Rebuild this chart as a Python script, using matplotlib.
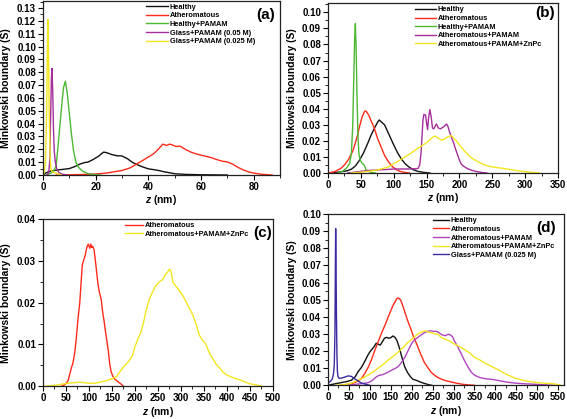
import matplotlib
matplotlib.use('Agg')
import matplotlib.pyplot as plt
from matplotlib.ticker import MultipleLocator, AutoMinorLocator, FormatStrFormatter

plt.rcParams['font.family'] = ['Liberation Sans', 'DejaVu Sans']
plt.rcParams['font.weight'] = 'bold'
plt.rcParams['axes.labelweight'] = 'bold'
plt.rcParams['mathtext.fontset'] = 'custom'
plt.rcParams['mathtext.it'] = 'Liberation Sans:italic:bold'
plt.rcParams['mathtext.rm'] = 'Liberation Sans:bold'

BLACK = '#111111'
RED = '#ff2a1a'
GREEN = '#4cb833'
PURPLE = '#a52f9c'
YELLOW = '#f5e51c'
VIOLET = '#b044c0'
INDIGO = '#3a2ba0'

# ---- panel (a)
a_healthy_x = [0, 1, 2, 3, 5, 8, 10, 12, 14, 16, 17, 19, 21, 23, 24, 26, 28, 30, 32, 34, 36, 38, 40, 42, 44, 46, 48, 50, 54, 60, 70]
a_healthy_y = [0, 0.0015, 0.0025, 0.003, 0.0038, 0.0045, 0.005, 0.0065, 0.0085, 0.0098, 0.010, 0.012, 0.0145, 0.0178, 0.0175, 0.016,
               0.015, 0.0148, 0.0128, 0.0098, 0.0078, 0.0062, 0.0048, 0.0042, 0.0035, 0.0025, 0.0018, 0.001, 0.0005, 0.0002, 0]
a_ath_x = [5, 10, 15, 20, 24, 27, 30, 33, 36, 38, 40, 42, 44, 45.5, 47, 48, 49, 50.5, 52, 54, 56, 58, 60, 62, 64, 66, 68, 70, 72,
           74, 76, 78, 80, 83, 87]
a_ath_y = [0, 0.0002, 0.0004, 0.0008, 0.0015, 0.0025, 0.0035, 0.0055, 0.009, 0.0115, 0.014, 0.0165, 0.0205, 0.024, 0.023, 0.024,
           0.0235, 0.0222, 0.0225, 0.020, 0.018, 0.0165, 0.0155, 0.0145, 0.0135, 0.012, 0.0108, 0.0102, 0.0085, 0.006, 0.004, 0.0025,
           0.0015, 0.0006, 0]
a_hp_x = [1, 2, 3, 4, 5, 5.7, 6.5, 7.2, 7.8, 8.5, 9.2, 10, 10.8, 11.6, 12.5, 13.5, 15, 17, 19, 22]
a_hp_y = [0, 0.0005, 0.0015, 0.003, 0.007, 0.022, 0.04, 0.056, 0.068, 0.073, 0.064, 0.048, 0.032, 0.019, 0.010, 0.006, 0.003, 0.0012,
          0.0004, 0]
a_g05_x = [1.5, 2.2, 2.6, 2.9, 3.2, 3.4, 3.7, 4.0, 4.3, 4.7, 5.2, 6, 7, 9]
a_g05_y = [0, 0.002, 0.012, 0.045, 0.075, 0.083, 0.065, 0.035, 0.018, 0.010, 0.005, 0.002, 0.0008, 0]
a_g025_x = [0, 0.5, 1.0, 1.4, 1.7, 1.9, 2.1, 2.4, 2.7, 3.0, 3.5, 4.5, 5.5, 7]
a_g025_y = [0, 0.002, 0.012, 0.05, 0.1, 0.121, 0.095, 0.045, 0.015, 0.005, 0.0025, 0.0018, 0.001, 0]

# ---- panel (b)
b_healthy_x = [0, 10, 20, 30, 36, 42, 48, 54, 60, 66, 72, 76, 78, 82, 86, 90, 95, 100, 106, 112, 118, 124, 130, 137, 145, 155]
b_healthy_y = [0, 0.0002, 0.0008, 0.0015, 0.0025, 0.0045, 0.008, 0.0125, 0.018, 0.024, 0.029, 0.032, 0.033, 0.0315, 0.030, 0.0265,
               0.022, 0.0175, 0.0125, 0.0085, 0.0055, 0.0035, 0.002, 0.001, 0.0004, 0]
b_ath_x = [0, 10, 20, 26, 32, 38, 44, 48, 52, 56, 58, 62, 66, 70, 75, 80, 86, 92, 98, 104, 110, 116, 124]
b_ath_y = [0, 0.0008, 0.003, 0.0055, 0.009, 0.014, 0.022, 0.029, 0.035, 0.0385, 0.0385, 0.036, 0.032, 0.0285, 0.022, 0.017, 0.011,
           0.007, 0.004, 0.002, 0.001, 0.0004, 0]
b_hp_x = [15, 22, 28, 33, 35.5, 37.5, 39, 40.5, 41.6, 42.8, 44, 45.5, 47, 49, 52, 55, 58, 62, 66, 72]
b_hp_y = [0, 0.001, 0.003, 0.006, 0.012, 0.028, 0.055, 0.083, 0.093, 0.078, 0.05, 0.024, 0.012, 0.008, 0.006, 0.005, 0.002, 0.001,
          0.0003, 0]
b_ap_x = [30, 40, 50, 60, 70, 80, 90, 100, 110, 120, 130, 137, 139.5, 141.5, 143, 144.5, 146, 148.5, 150, 151.5, 153, 155, 157, 159,
          161, 163, 165, 168, 171, 175, 178, 180.5, 182.5, 185, 188, 191, 194, 197, 200, 203, 207, 212, 218, 225, 233, 242]
b_ap_y = [0, 0.0005, 0.001, 0.0015, 0.0018, 0.002, 0.0022, 0.0025, 0.0025, 0.0025, 0.0026, 0.0028, 0.005, 0.012, 0.022, 0.033,
          0.0365, 0.036, 0.031, 0.027, 0.034, 0.0395, 0.035, 0.028, 0.0275, 0.029, 0.0305, 0.028, 0.0275, 0.0285, 0.0295, 0.0305,
          0.029, 0.0255, 0.022, 0.019, 0.015, 0.0115, 0.008, 0.0055, 0.004, 0.0028, 0.0018, 0.001, 0.0004, 0]
b_apz_x = [35, 50, 65, 76, 90, 101, 110, 117, 127, 137, 145, 152, 157, 162, 167, 172, 177, 182, 187, 190, 195, 200, 208, 218, 226,
           233, 242, 250, 264, 275, 284, 295, 304, 312, 322]
b_apz_y = [0, 0.0005, 0.0012, 0.002, 0.0035, 0.006, 0.0082, 0.010, 0.0125, 0.0155, 0.0175, 0.0195, 0.0215, 0.023, 0.022, 0.0205,
           0.021, 0.0225, 0.0232, 0.0225, 0.020, 0.0175, 0.0135, 0.0095, 0.0075, 0.006, 0.0045, 0.0038, 0.003, 0.0023, 0.0017,
           0.0011, 0.0006, 0.0003, 0]

# ---- panel (c)
c_ath_x = [40, 46, 51, 55, 58, 62, 65, 69, 72.5, 76, 80, 83, 85.5, 88, 91, 94, 96, 98.6, 100, 102, 104, 106, 108, 111, 114, 116, 119,
           122, 125, 127, 130, 133, 136, 139, 142, 145, 148, 152, 156, 160, 164, 168, 172, 175]
c_ath_y = [0, 0.0003, 0.0008, 0.0015, 0.0028, 0.0045, 0.0055, 0.008, 0.0115, 0.016, 0.020, 0.025, 0.029, 0.030, 0.031, 0.0325, 0.0335,
           0.034, 0.0335, 0.033, 0.034, 0.0332, 0.0335, 0.0327, 0.030, 0.028, 0.025, 0.0228, 0.0215, 0.0205, 0.0175, 0.0155, 0.013,
           0.0108, 0.0085, 0.0055, 0.0035, 0.0024, 0.0017, 0.0014, 0.001, 0.0007, 0.0003, 0]
c_apz_x = [0, 15, 30, 45, 60, 80, 95, 110, 125, 140, 150, 160, 167, 174, 181, 188, 195, 200, 206, 213, 219, 225, 232, 238, 245, 253,
           260, 265, 270, 275, 278, 283, 290, 297, 305, 312, 319, 326, 333, 340, 347, 353, 358, 364, 370, 377, 385, 392, 400, 410,
           420, 430, 440, 450, 460, 470, 476]
c_apz_y = [0, 0.0001, 0.0003, 0.0006, 0.0008, 0.001, 0.0008, 0.0007, 0.001, 0.0014, 0.0018, 0.0023, 0.0035, 0.0045, 0.0053, 0.0062,
           0.0075, 0.0095, 0.0112, 0.013, 0.0155, 0.0185, 0.021, 0.0225, 0.024, 0.025, 0.0255, 0.0265, 0.0272, 0.028, 0.0275, 0.0248,
           0.0238, 0.0228, 0.0215, 0.020, 0.0185, 0.017, 0.0148, 0.0122, 0.011, 0.0103, 0.009, 0.0075, 0.0065, 0.0052, 0.0043,
           0.0033, 0.0027, 0.0022, 0.0018, 0.0015, 0.001, 0.0006, 0.0004, 0.0002, 0]

# ---- panel (d)
d_healthy_x = [0, 15, 30, 45, 56, 65, 72, 80, 88, 95, 100, 105, 110, 115, 120, 125, 130, 135, 140, 145, 150, 155, 160, 165, 171, 177,
               183, 190, 197, 203, 210, 218, 225, 232, 240, 248]
d_healthy_y = [0, 0.0008, 0.0015, 0.0022, 0.003, 0.005, 0.008, 0.0105, 0.014, 0.0175, 0.0195, 0.021, 0.0225, 0.0245, 0.024, 0.0235,
               0.0255, 0.0275, 0.028, 0.0275, 0.0278, 0.0288, 0.028, 0.026, 0.0215, 0.016, 0.011, 0.0075, 0.005, 0.0035, 0.003,
               0.0022, 0.0015, 0.001, 0.0004, 0]
d_ath_x = [30, 45, 60, 72, 80, 88, 96, 104, 112, 120, 128, 136, 144, 150, 156, 161, 165, 169, 173, 178, 184, 190, 197, 205, 213, 221,
           230, 238, 247, 255, 263, 272, 280, 290, 300, 312, 325, 340, 350]
d_ath_y = [0, 0.0005, 0.0013, 0.0025, 0.004, 0.007, 0.0105, 0.015, 0.0205, 0.0255, 0.0305, 0.035, 0.040, 0.0435, 0.047, 0.049,
           0.0508, 0.0508, 0.050, 0.047, 0.0425, 0.038, 0.0335, 0.028, 0.0235, 0.0185, 0.0135, 0.0105, 0.0075, 0.0058, 0.0045,
           0.0035, 0.0028, 0.0022, 0.0016, 0.001, 0.0005, 0.0002, 0]
d_ap_x = [40, 56, 70, 85, 95, 104, 110, 116, 122, 130, 138, 146, 152, 160, 168, 176, 184, 192, 200, 208, 215, 223, 231, 238, 245, 252,
          258, 264, 270, 276, 281, 287, 292, 297, 303, 310, 318, 326, 335, 343, 351, 360, 368, 378, 391, 403, 415, 430, 446, 462,
          478, 495, 510, 525, 540]
d_ap_y = [0, 0.0004, 0.0007, 0.0011, 0.0015, 0.0025, 0.0038, 0.005, 0.0058, 0.0062, 0.007, 0.008, 0.0088, 0.0098, 0.011, 0.0135,
          0.0165, 0.0205, 0.0245, 0.0268, 0.028, 0.0295, 0.0308, 0.0315, 0.0318, 0.0315, 0.0315, 0.031, 0.0298, 0.0292, 0.029,
          0.0298, 0.0295, 0.0285, 0.0255, 0.0225, 0.0185, 0.0145, 0.0105, 0.0075, 0.0058, 0.0048, 0.0042, 0.0038, 0.0035, 0.003,
          0.0024, 0.0018, 0.0013, 0.001, 0.0008, 0.0006, 0.0004, 0.0002, 0]
d_apz_x = [20, 40, 55, 72, 85, 96, 108, 120, 132, 144, 156, 168, 180, 191, 203, 215, 222, 228, 234, 240, 247, 255, 263, 270, 279, 291,
           303, 315, 327, 339, 351, 363, 375, 387, 399, 411, 423, 435, 446, 458, 470, 486, 502, 518, 534, 548, 556]
d_apz_y = [0, 0.0004, 0.0012, 0.003, 0.0045, 0.006, 0.0078, 0.010, 0.0122, 0.0148, 0.017, 0.0195, 0.0222, 0.025, 0.0275, 0.030,
           0.031, 0.0315, 0.0318, 0.031, 0.0308, 0.030, 0.0298, 0.028, 0.027, 0.0258, 0.024, 0.0225, 0.0208, 0.0188, 0.0162,
           0.0148, 0.013, 0.0115, 0.010, 0.0085, 0.0068, 0.0055, 0.0042, 0.0035, 0.0027, 0.002, 0.0016, 0.0012, 0.001, 0.0006, 0]
d_g025_x = [0, 5, 10, 13, 15, 16.5, 17.5, 18.3, 19.2, 20.2, 21.3, 22.5, 24, 27, 32, 40, 48, 56, 64, 72, 80, 90, 100]
d_g025_y = [0.0012, 0.0022, 0.0035, 0.0065, 0.012, 0.03, 0.065, 0.0915, 0.07, 0.04, 0.018, 0.008, 0.005, 0.004, 0.0042, 0.0048,
            0.0055, 0.0052, 0.0038, 0.0025, 0.0013, 0.0006, 0]

panels = [
    dict(rect=[0.0758, 0.5823, 0.418, 0.4153], tag='(a)', xlim=(0, 90), ylim=(0, 0.1354), xstep=20, ystep=0.01,
         leg=(0.43, 0.99), hl=3.0, tagpos=(0.98, 0.92),
         series=[(a_healthy_x, a_healthy_y, BLACK, 'Healthy'),
                 (a_ath_x, a_ath_y, RED, 'Atheromatous'),
                 (a_hp_x, a_hp_y, GREEN, 'Healthy+PAMAM'),
                 (a_g05_x, a_g05_y, PURPLE, 'Glass+PAMAM (0.05 M)'),
                 (a_g025_x, a_g025_y, YELLOW, 'Glass+PAMAM (0.025 M)')]),
    dict(rect=[0.5785, 0.5871, 0.4056, 0.4057], tag='(b)', xlim=(0, 350), ylim=(0, 0.1058), xstep=50, ystep=0.01,
         leg=(0.375, 0.985), hl=2.8, tagpos=(0.985, 0.94),
         series=[(b_healthy_x, b_healthy_y, BLACK, 'Healthy'),
                 (b_ath_x, b_ath_y, RED, 'Atheromatous'),
                 (b_hp_x, b_hp_y, GREEN, 'Healthy+PAMAM'),
                 (b_ap_x, b_ap_y, PURPLE, 'Atheromatous+PAMAM'),
                 (b_apz_x, b_apz_y, YELLOW, 'Atheromatous+PAMAM+ZnPc')]),
    dict(rect=[0.0758, 0.078, 0.4056, 0.3993], tag='(c)', xlim=(0, 500), ylim=(0, 0.04), xstep=50, ystep=0.01,
         leg=(0.355, 0.985), hl=2.4, tagpos=(0.995, 0.914),
         series=[(c_ath_x, c_ath_y, RED, 'Atheromatous'),
                 (c_apz_x, c_apz_y, YELLOW, 'Atheromatous+PAMAM+ZnPc')]),
    dict(rect=[0.5785, 0.0804, 0.4162, 0.4089], tag='(d)', xlim=(0, 564), ylim=(0, 0.10), xstep=50, ystep=0.01,
         leg=(0.44, 0.985), hl=2.2, tagpos=(0.965, 0.92),
         series=[(d_healthy_x, d_healthy_y, BLACK, 'Healthy'),
                 (d_ath_x, d_ath_y, RED, 'Atheromatous'),
                 (d_ap_x, d_ap_y, VIOLET, 'Atheromatous+PAMAM'),
                 (d_apz_x, d_apz_y, YELLOW, 'Atheromatous+PAMAM+ZnPc'),
                 (d_g025_x, d_g025_y, INDIGO, 'Glass+PAMAM (0.025 M)')]),
]

fig = plt.figure(figsize=(5.67, 4.19), dpi=100)

for p in panels:
    ax = fig.add_axes(p['rect'])
    for x, y, c, lab in p['series']:
        ax.plot(x, y, color=c, lw=1.0, label=lab)
    ax.set_xlim(*p['xlim'])
    ax.set_ylim(*p['ylim'])
    ax.xaxis.set_major_locator(MultipleLocator(p['xstep']))
    ax.yaxis.set_major_locator(MultipleLocator(p['ystep']))
    ax.xaxis.set_minor_locator(AutoMinorLocator(2))
    ax.yaxis.set_minor_locator(AutoMinorLocator(2))
    ax.yaxis.set_major_formatter(FormatStrFormatter('%.2f'))
    ax.tick_params(which='major', direction='out', length=3.5, width=0.8, labelsize=7, pad=1.5)
    ax.tick_params(which='minor', direction='out', length=2, width=0.6)
    for s in ax.spines.values():
        s.set_linewidth(0.9)
        s.set_color('#222222')
    ax.set_ylabel('Minkowski boundary (S)', fontsize=7.5, labelpad=4)
    ax.set_xlabel(r'$z$ (nm)', fontsize=7.5, labelpad=1)
    ax.legend(loc='upper left', bbox_to_anchor=p['leg'], frameon=False, fontsize=5.3,
              handlelength=p['hl'], handletextpad=0.3, labelspacing=0.2, borderpad=0.1, borderaxespad=0)
    ax.text(p['tagpos'][0], p['tagpos'][1], p['tag'], transform=ax.transAxes, ha='right', va='center',
            fontsize=11, fontweight='bold')

fig.savefig('out.png', dpi=100)
